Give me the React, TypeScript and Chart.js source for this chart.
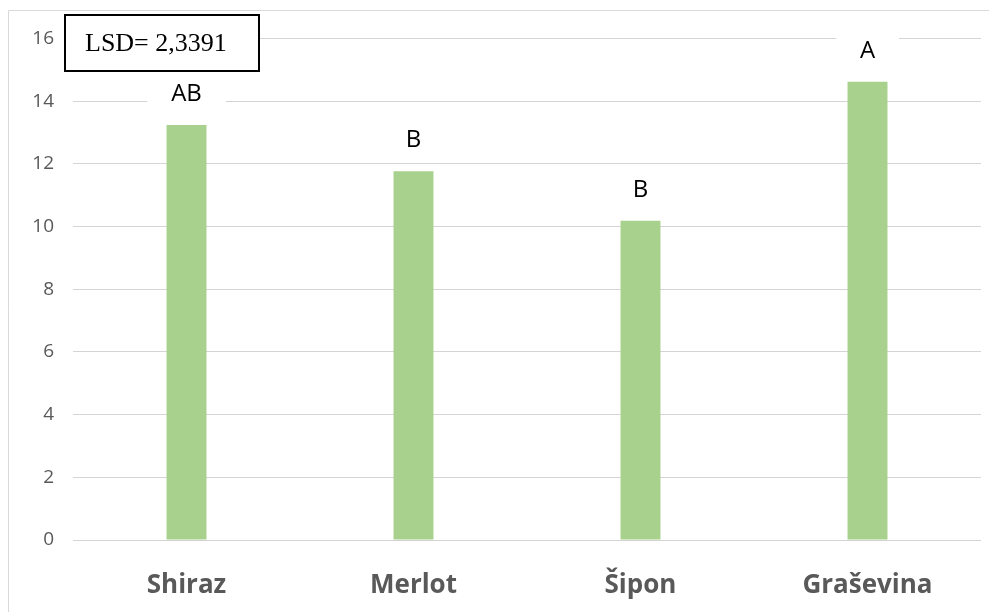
import React, { useEffect, useRef } from "react";
import { Chart, registerables } from "chart.js";

Chart.register(...registerables);

const categories = ["Shiraz", "Merlot", "Šipon", "Graševina"];
const values = [13.24, 11.76, 10.18, 14.62];
const letters = ["AB", "B", "B", "A"];
const lsdText = "LSD= 2,3391";
const yMin = 0;
const yMax = 16;
const yStep = 2;

const W = 989;
const H = 604;

const annotPlugin = {
  id: "annot",
  afterDatasetsDraw(chart: any) {
    const ctx = chart.ctx;
    const meta = chart.getDatasetMeta(0);
    ctx.save();
    ctx.font = "24px 'Open Sans'";
    ctx.textAlign = "center";
    ctx.textBaseline = "middle";
    meta.data.forEach((el: any, i: number) => {
      const txt = letters[i];
      const cy = el.y - 31;
      const tw = ctx.measureText(txt).width;
      const halfW = tw / 2 + 24;
      ctx.fillStyle = "#ffffff";
      ctx.fillRect(el.x - halfW, cy - 19, halfW * 2, 38);
      ctx.fillStyle = "#000000";
      ctx.fillText(txt, el.x, cy);
    });
    // LSD box
    const bx = 57, by = 7, bw = 194, bh = 56;
    ctx.fillStyle = "#ffffff";
    ctx.fillRect(bx, by, bw, bh);
    ctx.strokeStyle = "#000000";
    ctx.lineWidth = 2;
    ctx.strokeRect(bx, by, bw, bh);
    ctx.fillStyle = "#000000";
    ctx.font = "26px 'Liberation Serif'";
    ctx.textAlign = "left";
    ctx.textBaseline = "middle";
    ctx.fillText(lsdText, bx + 20, by + bh / 2 + 1);
    // outer frame (left & top)
    ctx.strokeStyle = "#d9d9d9";
    ctx.lineWidth = 1;
    ctx.beginPath();
    ctx.moveTo(0.5, H);
    ctx.lineTo(0.5, 2.5);
    ctx.lineTo(W, 2.5);
    ctx.stroke();
    ctx.restore();
  },
};

export default function App() {
  const ref = useRef<HTMLCanvasElement>(null);
  useEffect(() => {
    if (!ref.current) return;
    const chart = new Chart(ref.current, {
      type: "bar",
      data: {
        labels: categories,
        datasets: [
          {
            data: values,
            backgroundColor: "#a9d18e",
            categoryPercentage: 1,
            barPercentage: 0.176,
          },
        ],
      },
      options: {
        responsive: false,
        animation: false,
        layout: { padding: { top: 27, right: 16, left: 0, bottom: 0 } },
        plugins: { legend: { display: false }, tooltip: { enabled: false } },
        scales: {
          x: {
            grid: { display: false },
            border: { display: false },
            ticks: {
              color: "#595959",
              font: { family: "'Open Sans'", size: 26, weight: "bold" },
              padding: 22,
            },
            afterFit: (s: any) => {
              s.height = 72;
            },
          },
          y: {
            min: yMin,
            max: yMax,
            border: { display: false },
            grid: { color: "#d4d4d4", lineWidth: 1, drawTicks: false },
            ticks: {
              stepSize: yStep,
              color: "#595959",
              font: { family: "'Open Sans'", size: 19 },
              padding: 19,
            },
            afterFit: (s: any) => {
              s.width = 65;
            },
          },
        },
      },
      plugins: [annotPlugin],
    });
    return () => chart.destroy();
  }, []);
  return (
    <div style={{ width: W, height: H }}>
      <canvas ref={ref} width={W} height={H} style={{ display: "block" }} />
    </div>
  );
}
